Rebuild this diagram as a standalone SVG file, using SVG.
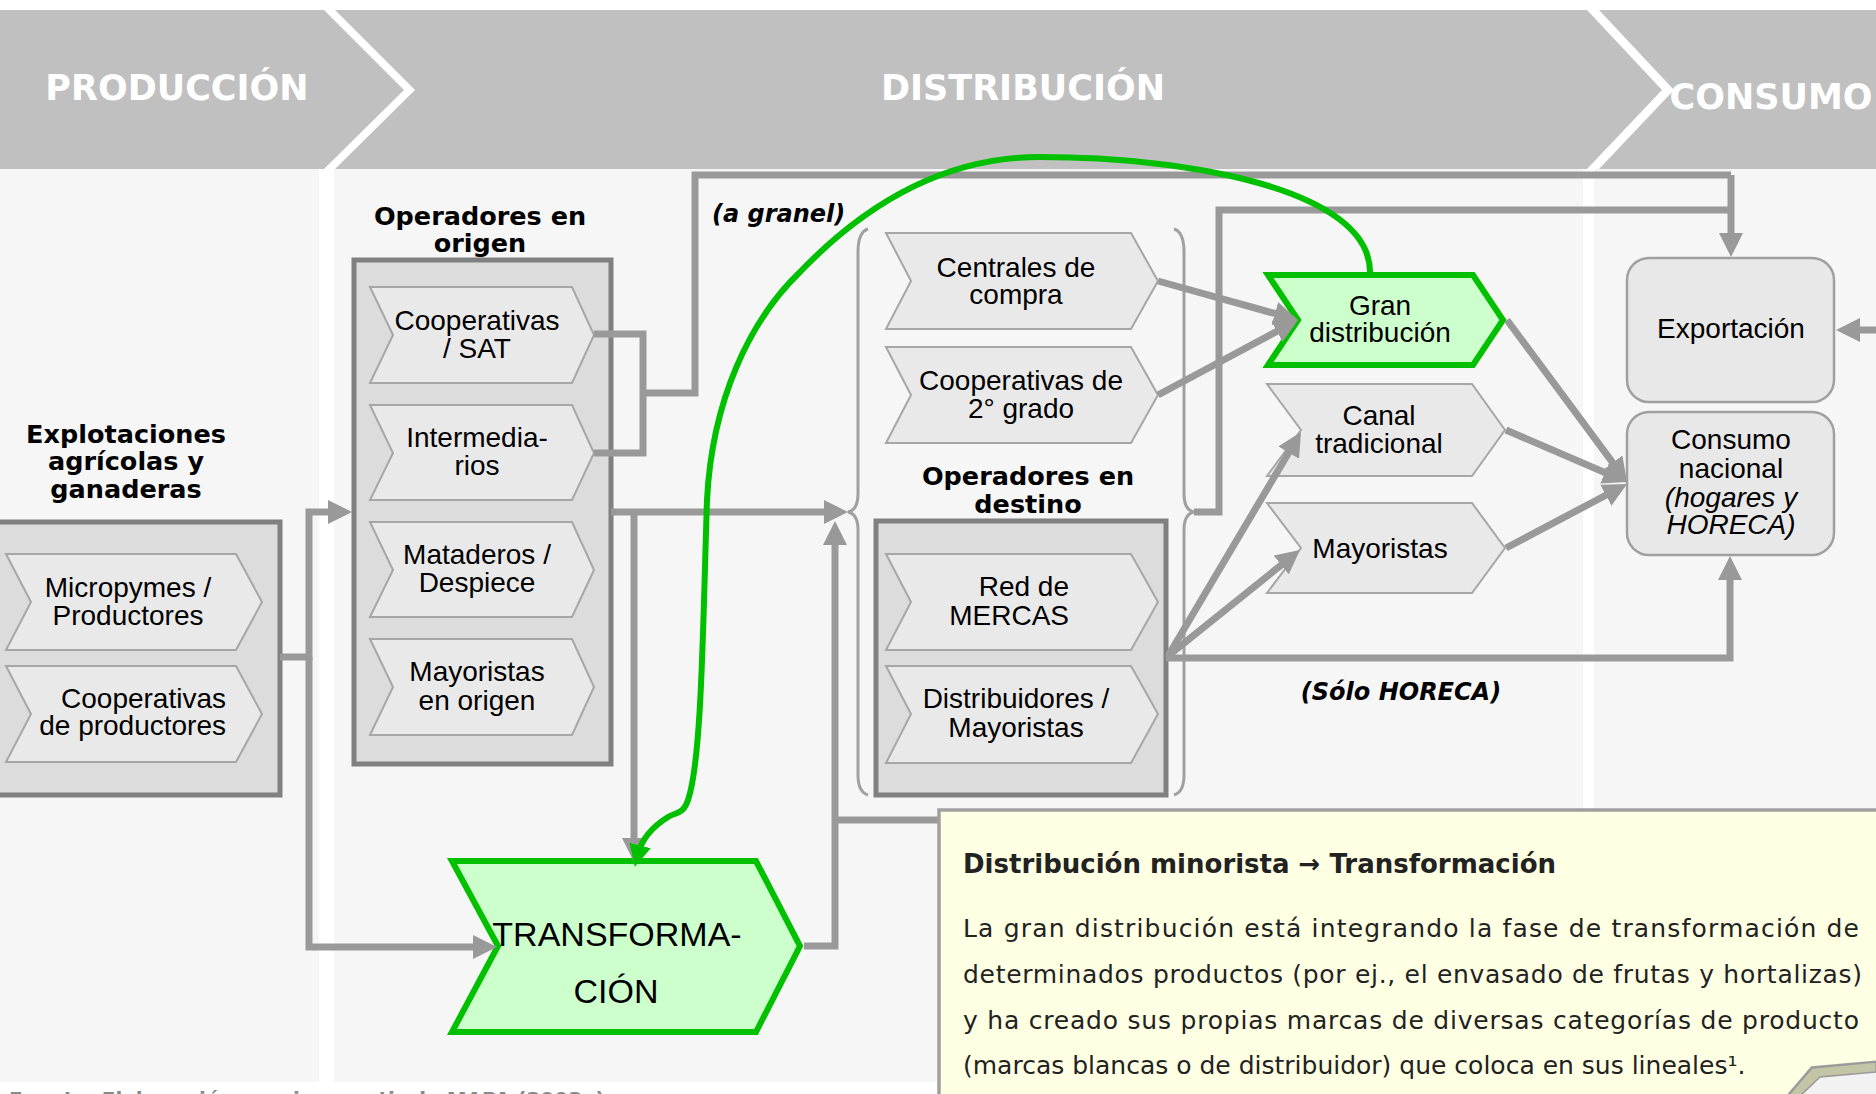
<svg xmlns="http://www.w3.org/2000/svg" width="1876" height="1094" viewBox="0 0 1876 1094">
<defs>
<style>
.hdr{fill:#c0c0c0}
.hdrt{font-family:"DejaVu Sans",sans-serif;font-weight:bold;font-size:35px;fill:#ffffff;text-anchor:middle}
.col{fill:#f6f6f6}
.grp{fill:#dcdcdc;stroke:#808080;stroke-width:5}
.chev{fill:#e9e9e9;stroke:#a6a6a6;stroke-width:2}
.gchev{fill:#ccffcc;stroke:#00c000;stroke-width:6;stroke-linejoin:miter}
.rbox{fill:#e8e8e8;stroke:#a0a0a0;stroke-width:2.5}
.t{font-family:"Liberation Sans",Arial,sans-serif;font-size:28px;fill:#000;text-anchor:middle}
.ti{font-style:italic}
.bt{font-family:"DejaVu Sans",sans-serif;font-weight:bold;font-size:25.5px;fill:#000;text-anchor:middle}
.lbl{font-family:"DejaVu Sans",sans-serif;font-weight:bold;font-style:italic;font-size:24px;fill:#000}
.ln{fill:none;stroke:#999999;stroke-width:7;stroke-linejoin:miter}
.arr{marker-end:url(#ah)}
.brace{fill:none;stroke:#a0a0a0;stroke-width:3}
.green{fill:none;stroke:#00c000;stroke-width:6;marker-end:url(#gah)}
.ct{font-family:"DejaVu Sans",sans-serif;font-size:25px;fill:#222}
</style>
<marker id="ah" viewBox="0 0 24 24" markerWidth="24" markerHeight="24" markerUnits="userSpaceOnUse" refX="8" refY="12" orient="auto">
<path d="M0,0 L24,12 L0,24 z" fill="#999999"/>
</marker>
<marker id="gah" viewBox="0 0 20 20" markerWidth="22" markerHeight="22" markerUnits="userSpaceOnUse" refX="8" refY="10" orient="auto">
<path d="M0,0 L20,10 L0,20 z" fill="#00c000"/>
</marker>
</defs>

<rect x="0" y="0" width="1876" height="1094" fill="#ffffff"/>

<g id="background">
<rect class="col" x="0" y="169" width="319" height="913"/>
<rect class="col" x="334" y="169" width="1249" height="913"/>
<rect class="col" x="1594" y="169" width="282" height="913"/>
</g>

<g id="header">
<polygon class="hdr" points="0,10 324,10 404,90 324,169 0,169"/>
<polygon class="hdr" points="335,10 1587,10 1662,90 1587,169 335,169 415,90"/>
<polygon class="hdr" points="1599,10 1876,10 1876,169 1599,169 1674,90"/>
<text class="hdrt" x="177" y="100">PRODUCCIÓN</text>
<text class="hdrt" x="1023" y="100">DISTRIBUCIÓN</text>
<text class="hdrt" x="1771" y="109">CONSUMO</text>
</g>

<g id="explotaciones">
<text class="bt" x="126" y="443">Explotaciones</text>
<text class="bt" x="126" y="470">agrícolas y</text>
<text class="bt" x="126" y="498">ganaderas</text>
<rect class="grp" x="-3" y="522" width="283" height="273"/>
</g>
<g id="micropymes">
<polygon class="chev" points="6,554 236,554 262,602 236,650 6,650 31,602"/>
<text class="t" x="128" y="597">Micropymes /</text>
<text class="t" x="128" y="625">Productores</text>
</g>
<g id="coop-productores">
<polygon class="chev" points="6,666 236,666 262,714 236,762 6,762 31,714"/>
<text class="t" x="226" y="708" style="text-anchor:end">Cooperativas</text>
<text class="t" x="226" y="735" style="text-anchor:end">de productores</text>
</g>

<g id="operadores-origen">
<text class="bt" x="480" y="225">Operadores en</text>
<text class="bt" x="480" y="252">origen</text>
<rect class="grp" x="354" y="260" width="257" height="504"/>
</g>
<g id="coop-sat">
<polygon class="chev" points="370,287 572,287 594,335 572,383 370,383 393,335"/>
<text class="t" x="477" y="330">Cooperativas</text>
<text class="t" x="477" y="358">/ SAT</text>
</g>
<g id="intermediarios">
<polygon class="chev" points="370,405 572,405 594,453 572,500 370,500 393,453"/>
<text class="t" x="477" y="447">Intermedia-</text>
<text class="t" x="477" y="475">rios</text>
</g>
<g id="mataderos">
<polygon class="chev" points="370,522 572,522 594,570 572,617 370,617 393,570"/>
<text class="t" x="477" y="564">Mataderos /</text>
<text class="t" x="477" y="592">Despiece</text>
</g>
<g id="mayoristas-origen">
<polygon class="chev" points="370,639 572,639 594,687 572,735 370,735 393,687"/>
<text class="t" x="477" y="681">Mayoristas</text>
<text class="t" x="477" y="710">en origen</text>
</g>

<g id="braces">
<path class="brace" d="M868,229 Q858,232 858,252 V494 Q858,510 848,512 Q858,514 858,530 V775 Q858,792 868,795"/>
<path class="brace" d="M1174,229 Q1184,232 1184,252 V494 Q1184,510 1194,512 Q1184,514 1184,530 V775 Q1184,792 1174,795"/>
</g>
<g id="centrales">
<polygon class="chev" points="886,233 1131,233 1158,281 1131,329 886,329 911,281"/>
<text class="t" x="1016" y="277">Centrales de</text>
<text class="t" x="1016" y="304">compra</text>
</g>
<g id="coop-2grado">
<polygon class="chev" points="886,347 1131,347 1158,395 1131,443 886,443 911,395"/>
<text class="t" x="1021" y="390">Cooperativas de</text>
<text class="t" x="1021" y="418">2° grado</text>
</g>
<g id="operadores-destino">
<text class="bt" x="1028" y="485">Operadores en</text>
<text class="bt" x="1028" y="513">destino</text>
<rect class="grp" x="876" y="521" width="290" height="274"/>
</g>
<g id="mercas">
<polygon class="chev" points="886,554 1131,554 1158,602 1131,650 886,650 911,602"/>
<text class="t" x="1069" y="596" style="text-anchor:end">Red de</text>
<text class="t" x="1069" y="625" style="text-anchor:end">MERCAS</text>
</g>
<g id="distribuidores">
<polygon class="chev" points="886,666 1131,666 1158,714 1131,763 886,763 911,714"/>
<text class="t" x="1016" y="708">Distribuidores /</text>
<text class="t" x="1016" y="737">Mayoristas</text>
</g>

<g id="gran-distribucion">
<polygon class="gchev" points="1268,275 1473,275 1503,320 1473,365 1268,365 1298,320"/>
<text class="t" x="1380" y="315">Gran</text>
<text class="t" x="1380" y="342">distribución</text>
</g>
<g id="canal-tradicional">
<polygon class="chev" points="1267,384 1472,384 1505,430 1472,476 1267,476 1301,430"/>
<text class="t" x="1379" y="425">Canal</text>
<text class="t" x="1379" y="453">tradicional</text>
</g>
<g id="mayoristas">
<polygon class="chev" points="1267,503 1472,503 1505,548 1472,593 1267,593 1301,548"/>
<text class="t" x="1380" y="558">Mayoristas</text>
</g>

<g id="exportacion">
<rect class="rbox" x="1627" y="258" width="207" height="144" rx="22"/>
<text class="t" x="1731" y="338">Exportación</text>
</g>
<g id="consumo-nacional">
<rect class="rbox" x="1627" y="412" width="207" height="143" rx="22"/>
<text class="t" x="1731" y="449">Consumo</text>
<text class="t" x="1731" y="478">nacional</text>
<text class="t ti" x="1731" y="507">(hogares y</text>
<text class="t ti" x="1731" y="534">HORECA)</text>
</g>

<g id="transformacion">
<polygon class="gchev" points="452,861 756,861 800,946 756,1032 452,1032 498,946"/>
<text class="t" x="617" y="946" style="font-size:34px">TRANSFORMA-</text>
<text class="t" x="616" y="1003" style="font-size:34px">CIÓN</text>
</g>

<g id="connectors">
<path class="ln arr" d="M280,657 H309 V512 H336"/>
<path class="ln arr" d="M309,657 V947 H481"/>
<path class="ln" d="M594,334 H643 V453 H594 M643,393 H695 V175 H1731"/>
<path class="ln arr" d="M1731,175 V241"/>
<path class="ln arr" d="M611,512 H832"/>
<path class="ln arr" d="M634,512 V846"/>
<path class="ln arr" d="M804,946 H835 V537"/>
<path class="ln" d="M835,820 H950"/>
<path class="ln" d="M1194,512 H1219 V210 H1731"/>
<path class="ln arr" d="M1158,281 L1282.6,315.7"/>
<path class="ln arr" d="M1158,395 L1283.9,327.6"/>
<path class="ln arr" d="M1168,656 L1292.8,445.8"/>
<path class="ln arr" d="M1168,656 L1287.5,560"/>
<path class="ln arr" d="M1166,658 H1730 V572"/>
<path class="ln arr" d="M1507,320 L1617.5,469.1"/>
<path class="ln arr" d="M1506,430 L1612.3,475.7"/>
<path class="ln arr" d="M1506,548 L1612.9,491.5"/>
<path class="ln arr" d="M1876,330 H1852"/>
<text class="lbl" x="712" y="222">(a granel)</text>
<text class="lbl" x="1401" y="700" style="text-anchor:middle">(Sólo HORECA)</text>
<path class="green" d="M1370,272 C1370,190 1190,157 1040,157 C930,157 850,220 800,272 C750,320 712,400 707,500 C703,620 702,760 688,800 C683,815 676,812 668,817 C652,827 642,838 638,854"/>
</g>

<g id="callout">
<path d="M939,810 H1880 V1062 L1812,1068 L1788,1096 H939 Z" fill="#ffffe3" stroke="#a0a0a0" stroke-width="3.5"/>
<polygon points="1876,1064 1876,1096 1800,1096 1820,1076" fill="#f2f2f2"/>
<polygon points="1788,1096 1812,1068 1876,1062 1876,1072 1820,1077 1800,1096" fill="#c4c4a6" stroke="#999999" stroke-width="1.5"/>
<text x="963" y="873" style="font-family:'DejaVu Sans',sans-serif;font-weight:bold;font-size:26px;fill:#222">Distribución minorista → Transformación</text>
<text class="ct" x="963" y="937" textLength="896" lengthAdjust="spacing">La gran distribución está integrando la fase de transformación de</text>
<text class="ct" x="963" y="983" textLength="899" lengthAdjust="spacing">determinados productos (por ej., el envasado de frutas y hortalizas)</text>
<text class="ct" x="963" y="1029" textLength="896" lengthAdjust="spacing">y ha creado sus propias marcas de diversas categorías de producto</text>
<text class="ct" x="963" y="1074">(marcas blancas o de distribuidor) que coloca en sus lineales¹.</text>
</g>

<text x="9" y="1106" style="font-family:'DejaVu Sans',sans-serif;font-weight:bold;font-size:20px;fill:#888888">Fuente: Elaboración propia a partir de MAPA (2003a)</text>
</svg>
